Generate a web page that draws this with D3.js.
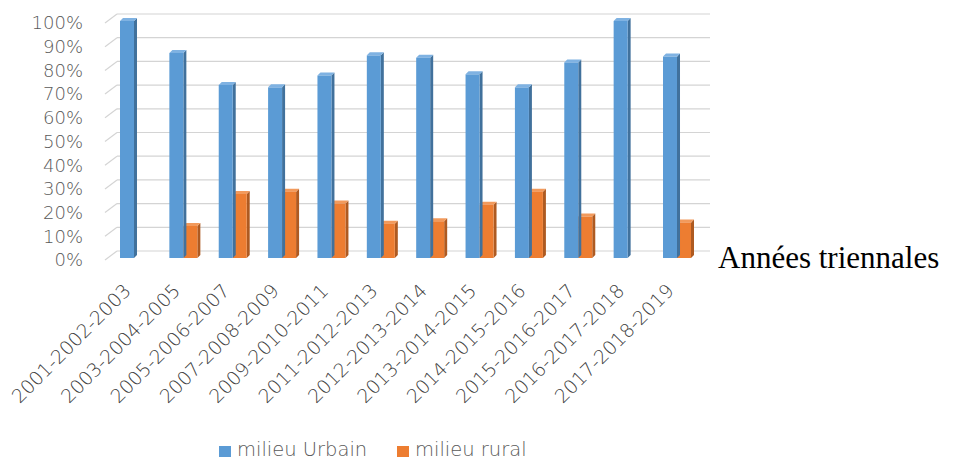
<!DOCTYPE html>
<html>
<head>
<meta charset="utf-8">
<script src="https://cdn.jsdelivr.net/npm/d3@7"></script>
<style>
  body { margin: 0; background: #fff; }
  svg { display: block; }
</style>
</head>
<body>
<div id="chart"></div>
<script>
const categories = ["2001-2002-2003", "2003-2004-2005", "2005-2006-2007", "2007-2008-2009",
    "2009-2010-2011", "2011-2012-2013", "2012-2013-2014", "2013-2014-2015",
    "2014-2015-2016", "2015-2016-2017", "2016-2017-2018", "2017-2018-2019"];
const urbain = [100, 86.5, 73, 72, 77, 85.5, 84.5, 77.5, 72, 82.5, 100, 85];
const rural = [0, 13.5, 27, 28, 23, 14.5, 15.5, 22.5, 28, 17.5, 0, 15];
const yTicks = [0, 10, 20, 30, 40, 50, 60, 70, 80, 90, 100];
const seriesNames = ["milieu Urbain", "milieu rural"];

const W = 953, H = 461;
const colors = {
    u: { front: "#5b9bd5", side: "#41719c", top: "#7fb2e2" },
    r: { front: "#ed7d31", side: "#ae5a21", top: "#f29a5c" }
};
const depth = 3;          // small 3d offset of the bars
const wallDx = 12, wallDy = -7;  // back wall offset

const svg = d3.select("#chart").append("svg").attr("width", W).attr("height", H);

const y = d3.scaleLinear().domain([0, 100]).range([258, 21]);
const x0 = d3.scaleBand().domain(categories).range([120, 691]).paddingInner(0.433).paddingOuter(0);
const x1 = d3.scaleBand().domain(["u", "r"]).range([0, x0.bandwidth()]);

// back wall gridlines + left diagonal ticks
const grid = svg.append("g");
grid.selectAll("line.h").data(yTicks).enter().append("line")
    .attr("x1", 117).attr("x2", 710)
    .attr("y1", d => y(d) + wallDy).attr("y2", d => y(d) + wallDy)
    .attr("stroke", "#d4d4d4").attr("stroke-width", 1.2);
grid.selectAll("line.d").data(yTicks).enter().append("line")
    .attr("x1", 117 - wallDx).attr("x2", 117)
    .attr("y1", d => y(d) + wallDy + 9).attr("y2", d => y(d) + wallDy)
    .attr("stroke", "#d4d4d4").attr("stroke-width", 1.2);

// y labels
svg.append("g").selectAll("text").data(yTicks).enter().append("text")
    .attr("x", 83).attr("y", d => y(d) + 2).attr("dy", "0.35em")
    .attr("text-anchor", "end")
    .style("font-family", "DejaVu Sans").style("font-size", "18px").style("font-weight", 200)
    .attr("fill", "#595959")
    .text(d => d + "%");

// bars
const rows = categories.map((c, i) => ({ cat: c, u: urbain[i], r: rural[i] }));
const groups = svg.append("g").selectAll("g").data(rows).enter().append("g")
    .attr("transform", d => "translate(" + x0(d.cat) + ",0)");

const bw = x1.bandwidth();
["r", "u"].forEach(function (k) {
    const b = groups.filter(d => d[k] > 0);
    // side face
    b.append("path")
        .attr("d", d => {
            const xx = x1(k) + bw, yt = y(d[k]), yb = y(0);
            return "M" + xx + "," + yt + "L" + (xx + depth) + "," + (yt - depth) +
                "L" + (xx + depth) + "," + (yb - depth) + "L" + xx + "," + yb + "Z";
        })
        .attr("fill", colors[k].side);
    // top face
    b.append("path")
        .attr("d", d => {
            const xx = x1(k), yt = y(d[k]);
            return "M" + xx + "," + yt + "L" + (xx + bw) + "," + yt +
                "L" + (xx + bw + depth) + "," + (yt - depth) + "L" + (xx + depth) + "," + (yt - depth) + "Z";
        })
        .attr("fill", colors[k].top);
    // front
    b.append("rect")
        .attr("x", x1(k))
        .attr("y", d => y(d[k]))
        .attr("width", bw)
        .attr("height", d => y(0) - y(d[k]))
        .attr("fill", colors[k].front);
});

// x labels, under each cluster
svg.append("g").selectAll("text").data(categories).enter().append("text")
    .attr("transform", d => "translate(" + (x0(d) + x0.bandwidth() / 2 - 2) + ",292) rotate(-45)")
    .attr("text-anchor", "end")
    .style("font-family", "DejaVu Sans").style("font-size", "19px").style("font-weight", 200)
    .attr("fill", "#404040")
    .text(d => d);

// axis title
svg.append("text")
    .attr("x", 718).attr("y", 268)
    .style("font-family", "Liberation Serif").style("font-size", "31px")
    .attr("fill", "#000")
    .text("Années triennales");

// legend
const legend = svg.append("g");
const legX = [219, 397];
seriesNames.forEach(function (n, i) {
    const k = i === 0 ? "u" : "r";
    legend.append("rect").attr("x", legX[i]).attr("y", 446).attr("width", 12).attr("height", 11)
        .attr("fill", colors[k].front);
    legend.append("text").attr("x", legX[i] + 18).attr("y", 456)
        .style("font-family", "DejaVu Sans").style("font-size", "19.5px").style("font-weight", 200)
        .attr("fill", "#595959")
        .text(n);
});
</script>
</body>
</html>
